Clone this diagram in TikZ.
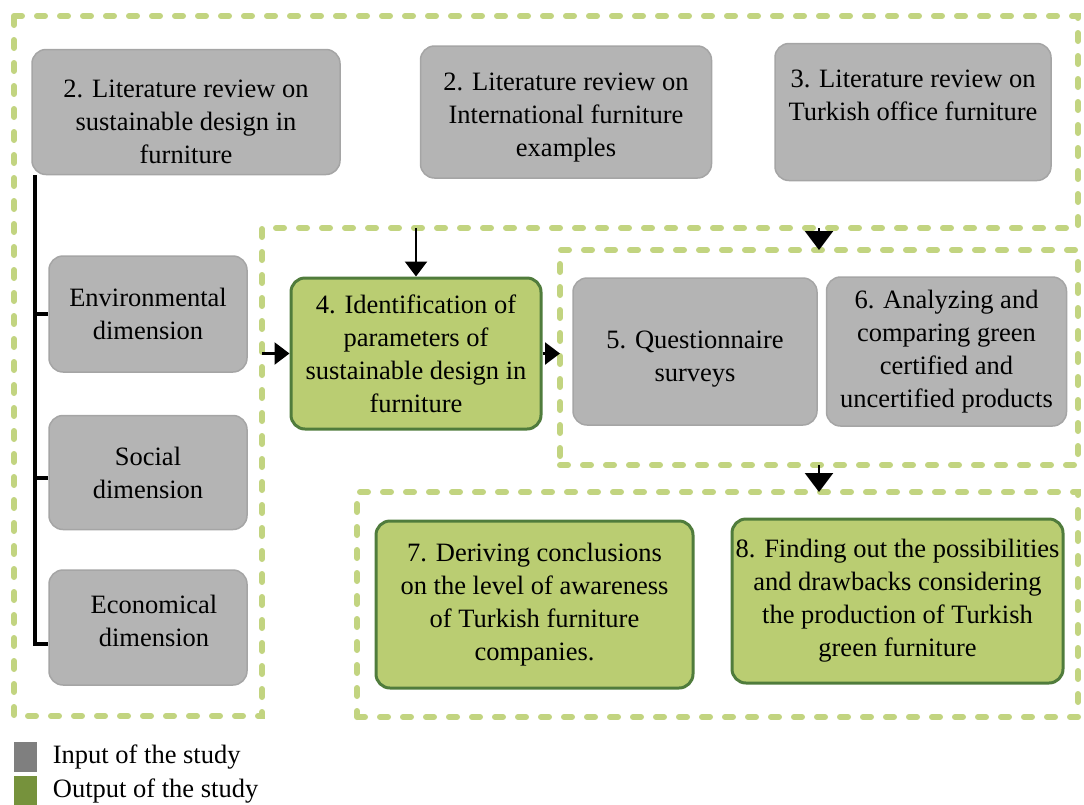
\documentclass[tikz,border=0pt]{standalone}
\usepackage{fontspec}
\setmainfont{Liberation Serif}
\usepackage{tikz}
\usetikzlibrary{arrows.meta, positioning, calc}
\definecolor{boxgray}{RGB}{180,180,180}
\definecolor{edgegray}{RGB}{165,165,165}
\definecolor{boxgreen}{RGB}{186,205,114}
\definecolor{edgegreen}{RGB}{80,124,60}
\definecolor{dashgreen}{RGB}{194,212,128}
\definecolor{keygray}{RGB}{127,127,127}
\definecolor{keygreen}{RGB}{118,146,60}
\tikzstyle{inbox} = [rectangle, rounded corners=14pt, fill=boxgray, draw=edgegray, line width=1.5pt, align=center, inner sep=0pt]
\tikzstyle{outbox} = [rectangle, rounded corners=14pt, fill=boxgreen, draw=edgegreen, line width=3pt, align=center, inner sep=0pt]
\tikzstyle{zone} = [draw=dashgreen, line width=6pt, dash pattern=on 8pt off 15pt, line cap=round, inner sep=0pt, outer sep=0pt]
\tikzstyle{arrow} = [line width=2.5pt, -{Triangle[width=22pt,length=15pt]}]
\tikzstyle{bigarrow} = [line width=2.5pt, -{Triangle[width=28pt,length=19pt]}]
\tikzstyle{bar} = [line width=4pt]
\tikzstyle{keybox} = [rectangle, minimum width=23pt, minimum height=30pt, inner sep=0pt]
\begin{document}
\begin{tikzpicture}[x=1pt, y=-1pt, node distance=40pt, font=\rmfamily\fontsize{26.5}{33}\selectfont]
\useasboundingbox (0,0) rectangle (1084,804);
% dashed groups
\draw[zone] (14,16) -- (1078,16) -- (1078,228) -- (262,228) -- (262,716) -- (14,716) -- cycle;
\coordinate (cut) at (262,228);
\coordinate (spine) at (35,175);
\node (grp56) [zone, minimum width=518, minimum height=215] at (819,357.5) {};
\node (grp78) [zone, minimum width=721, minimum height=225] at (717.5,604.5) {};
% inputs
\node (lit1) [inbox, minimum width=308, minimum height=125] at (186,112) {\rule{0pt}{38pt}2. Literature review on\\sustainable design in\\furniture};
\node (lit2) [inbox, minimum width=291, minimum height=132, right=79pt of lit1] {\rule{0pt}{28pt}2. Literature review on\\International furniture\\examples};
\node (lit3) [inbox, minimum width=276, minimum height=137, right=62pt of lit2] {3. Literature review on\\Turkish office furniture\\~};
\node (env) [inbox, minimum width=198, minimum height=116] at (148,314) {Environmental\\dimension};
\node (soc) [inbox, minimum width=198, minimum height=114, below=42pt of env] {Social\\dimension};
\node (eco) [inbox, minimum width=198, minimum height=115, below=39pt of soc] {\hspace*{12pt}Economical\\\hspace*{12pt}dimension\rule[-14pt]{0pt}{0pt}};
\node (quest) [inbox, minimum width=244, minimum height=147] at (695,351.5) {\rule{0pt}{32pt}5. Questionnaire\\surveys};
\node (anal) [inbox, minimum width=240, minimum height=149, right=8pt of quest] {6. Analyzing and\\comparing green\\certified and\\uncertified products};
% outputs
\node (ident) [outbox, minimum width=250, minimum height=151] at (416,353.5) {4. Identification of\\parameters of\\sustainable design in\\furniture};
\node (concl) [outbox, minimum width=317, minimum height=167] at (534.5,604.5) {7. Deriving conclusions\\on the level of awareness\\of Turkish furniture\\companies.};
\node (poss) [outbox, minimum width=331, minimum height=164] at (897.5,601) {8. Finding out the possibilities\\and drawbacks considering\\the production of Turkish\\green furniture};
% links
\draw[bar] (spine) |- ([yshift=-16pt]eco.west);
\draw[bar] (env.west -| spine) -- (env.west);
\draw[bar] ([yshift=-5pt]soc.west -| spine) -- ([yshift=-5pt]soc.west);
\draw[arrow] (ident.west -| cut) -- (ident.west);
\draw[arrow] (ident.north |- cut) -- (ident.north);
\draw[arrow] (ident.east) -- (ident.east -| grp56.west);
\draw[bigarrow] (grp56.north |- cut) -- (grp56.north);
\draw[bigarrow] (grp56.south) -- (grp56.south |- grp78.north);
% legend
\node (keyin) [keybox, fill=keygray] at (25,757) {};
\node (keyout) [keybox, fill=keygreen, below=4pt of keyin] {};
\node [right=16pt of keyin, inner sep=0pt] {Input of the study};
\node [right=16pt of keyout, inner sep=0pt] {Output of the study};
\end{tikzpicture}
\end{document}
